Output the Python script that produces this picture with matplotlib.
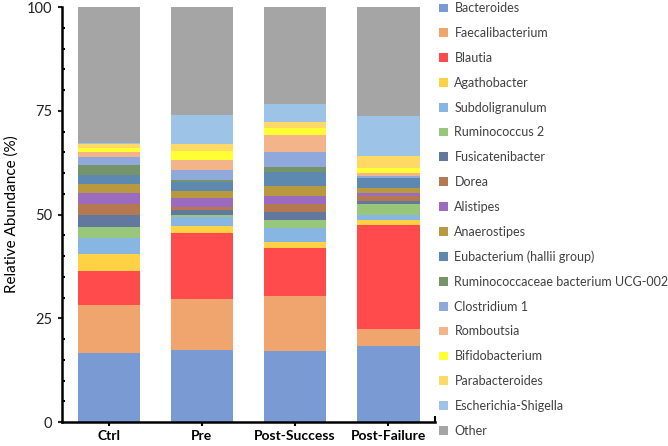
import matplotlib.pyplot as plt
import numpy as np

# grupos y taxones
grupos = ['Ctrl', 'Pre', 'Post-Success', 'Post-Failure']

taxones = ['Bacteroides', 'Faecalibacterium', 'Blautia', 'Agathobacter',
           'Subdoligranulum', 'Ruminococcus 2', 'Fusicatenibacter', 'Dorea',
           'Alistipes', 'Anaerostipes', 'Eubacterium (hallii group)',
           'Ruminococcaceae bacterium UCG-002', 'Clostridium 1', 'Romboutsia',
           'Bifidobacterium', 'Parabacteroides', 'Escherichia-Shigella', 'Other']

# abundancia relativa (%) por grupo, en el orden de taxones
ctrl = [16.7, 11.4, 8.3, 4.2, 3.8, 2.6, 2.8, 2.8, 2.6, 2.2, 2.2, 2.3, 2.0, 1.3, 0.9, 0.8, 0.4, 32.7]
pre = [17.4, 12.2, 15.9, 1.7, 2.2, 0.6, 1.0, 0.8, 2.3, 1.5, 2.2, 0.6, 2.4, 2.3, 2.2, 1.8, 6.9, 26.0]
post_success = [17.0, 13.3, 11.6, 1.6, 3.2, 2.1, 1.8, 1.9, 2.0, 2.3, 3.5, 1.2, 3.7, 4.1, 1.6, 1.3, 4.4, 23.4]
post_failure = [18.3, 4.0, 25.2, 1.1, 1.4, 2.5, 0.8, 1.1, 0.9, 1.2, 2.2, 0.2, 0.3, 0.8, 1.3, 2.9, 9.6, 26.2]

colores = ['#7A9AD3', '#F0A46E', '#FF4B4B', '#FFD145', '#88B6E2', '#98C67B',
           '#62789F', '#B67850', '#9B6BBF', '#B8993F', '#5D88AF', '#76946A',
           '#8FA9DC', '#F4B48A', '#FFFF33', '#FFD966', '#9DC3E6', '#A5A5A5']

datos = np.array([ctrl, pre, post_success, post_failure])

plt.rcParams['font.family'] = ['Lato', 'DejaVu Sans']

fig = plt.figure(figsize=(6.68, 4.46), dpi=100)
ax = fig.add_axes([0.0928, 0.0538, 0.5585, 0.9302])

x = np.arange(len(grupos))
base = np.zeros(len(grupos))
for i, taxon in enumerate(taxones):
    ax.bar(x, datos[:, i], bottom=base, width=0.667, color=colores[i],
           label=taxon, linewidth=0)
    base += datos[:, i]

ax.set_xlim(-0.5, 3.5)
ax.set_ylim(0, 100)
ax.set_yticks([0, 25, 50, 75, 100])
ax.set_yticks(np.arange(0, 101, 5), minor=True)
ax.set_xticks(x)
ax.set_xticklabels(grupos, fontweight='bold', fontsize=10)
ax.set_xticks([3.5], minor=True)

ax.tick_params(axis='y', which='major', direction='out', length=3, width=1.5,
               labelsize=10.5, colors='#222222', pad=4)
ax.tick_params(axis='y', which='minor', direction='in', length=2.5, width=1.5)
ax.tick_params(axis='x', which='major', direction='out', length=3, width=1.5, pad=3)
ax.tick_params(axis='x', which='minor', direction='in', length=4, width=1.5)

ax.spines['top'].set_visible(False)
ax.spines['right'].set_visible(False)
ax.spines['left'].set_linewidth(1.8)
ax.spines['bottom'].set_linewidth(1.8)

ax.set_ylabel('Relative Abundance (%)', fontsize=11, labelpad=6)

fig.legend(loc='upper left', bbox_to_anchor=(0.641, 1.02), frameon=False,
           fontsize=9, handlelength=0.7, handleheight=0.7, handletextpad=0.5,
           labelspacing=1.025, labelcolor='#404040')

fig.savefig('out.png', dpi=100)
